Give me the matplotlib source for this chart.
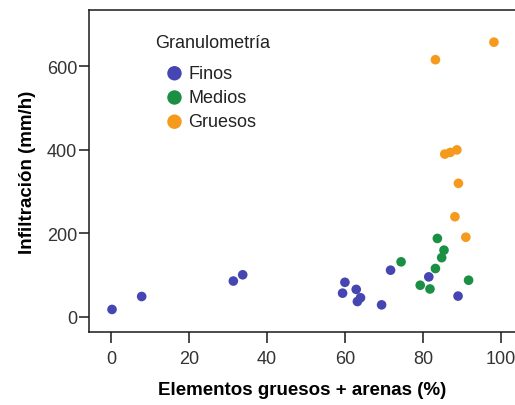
import matplotlib
matplotlib.use("Agg")
import matplotlib.pyplot as plt

plt.rcParams['font.family'] = ['Liberation Sans', 'DejaVu Sans']

categories = ["Finos", "Medios", "Gruesos"]
colors = ["#4646b2", "#1b8f44", "#f59a1c"]

finos_x = [0.3, 7.9, 31.4, 33.8, 60.0, 59.4, 62.9, 64.0, 63.2, 69.4, 71.7, 81.5, 89.0]
finos_y = [18, 49, 86, 101, 83, 57, 66, 46, 37, 29, 112, 96, 50]

medios_x = [74.4, 83.7, 85.4, 84.8, 83.2, 79.3, 81.8, 91.7]
medios_y = [132, 188, 160, 142, 116, 76, 67, 88]

gruesos_x = [98.2, 83.2, 85.6, 87.0, 88.7, 89.1, 88.2, 91.0]
gruesos_y = [658, 616, 390, 394, 400, 320, 240, 191]

xticks = [0, 20, 40, 60, 80, 100]
yticks = [0, 200, 400, 600]

W, H = 515, 406
fig = plt.figure(figsize=(W / 100, H / 100), dpi=100)
ax = fig.add_axes([89 / W, 1 - 333 / H, 1 - 89 / W, (333 - 11) / H])

series = [(finos_x, finos_y), (medios_x, medios_y), (gruesos_x, gruesos_y)]
for (xs, ys), lab, c in zip(series, categories, colors):
    ax.scatter(xs, ys, s=48, color=c, edgecolors='none', label=lab, zorder=3)

ax.set_xlim(-5.6, 103.6)
ax.set_ylim(-36, 735)
ax.set_xticks(xticks)
ax.set_yticks(yticks)
ax.spines['right'].set_visible(False)
for s in ['left', 'bottom', 'top']:
    ax.spines[s].set_linewidth(1.1)
    ax.spines[s].set_color('#1a1a1a')
ax.tick_params(axis='x', length=8, width=1.1, color='#1a1a1a', labelsize=13,
               labelcolor='#333333', pad=5)
ax.tick_params(axis='y', length=7.5, width=1.1, color='#1a1a1a', labelsize=13,
               labelcolor='#333333', pad=1)

ax.set_xlabel("Elementos gruesos + arenas (%)", fontsize=13.5, fontweight='bold',
              labelpad=10)
ax.set_ylabel("Infiltración (mm/h)", fontsize=13.5, fontweight='bold', labelpad=8)

fig.text(155 / W, 1 - 44 / H, "Granulometría", fontsize=13, va='center', ha='left',
         color='#222222')
leg = ax.legend(loc='upper left', bbox_to_anchor=(165 / W, 1 - 66 / H),
                bbox_transform=fig.transFigure, frameon=False, fontsize=13,
                markerscale=1.5, handletextpad=0.25, labelspacing=0.4,
                borderpad=0, borderaxespad=0, handlelength=1.05)
for t in leg.get_texts():
    t.set_color('#222222')

fig.savefig("out.png", dpi=100)
